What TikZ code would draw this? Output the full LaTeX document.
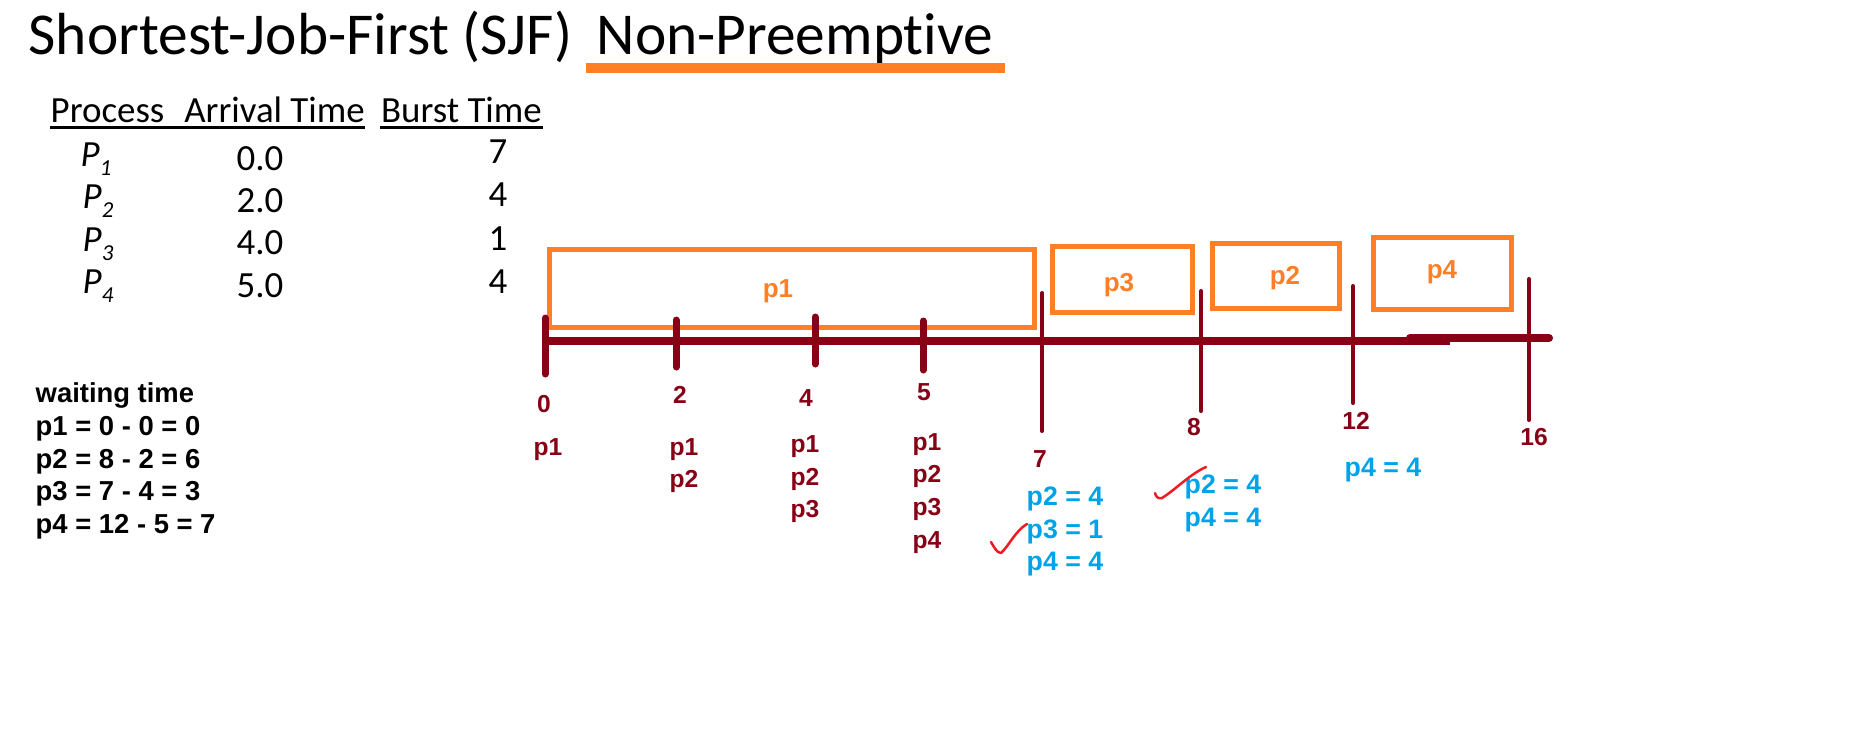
\documentclass[tikz,border=0pt]{standalone}
\usepackage{fontspec}
\setmainfont{Carlito}[Ligatures=NoCommon]
\newfontfamily\arial{Liberation Sans}
\usetikzlibrary{positioning}
\definecolor{tlred}{HTML}{880015}
\definecolor{boxorange}{HTML}{FF7F27}
\definecolor{qblue}{HTML}{00A2E8}
\definecolor{tickred}{HTML}{ED1C24}
\newcommand{\procname}[1]{\textit{P}\raisebox{-0.9mm}{\fontsize{6.5}{7}\selectfont\textit{#1}}}

\begin{document}
\begin{tikzpicture}[x=0.1mm, y=-0.1mm, every node/.style={inner sep=0pt},
    ttl/.style={font=\fontsize{16.9}{20}\selectfont},
    tbl/.style={font=\fontsize{10.5}{13}\selectfont, anchor=base},
    slot/.style={draw=boxorange, line width=0.5mm},
    slotname/.style={text=boxorange, anchor=base, font=\arial\bfseries\fontsize{7.4}{9}\selectfont},
    tnum/.style={text=tlred, anchor=base, font=\arial\bfseries\fontsize{7}{9}\selectfont},
    queue/.style={text=qblue, anchor=base west, font=\arial\bfseries\fontsize{7.6}{9}\selectfont},
    wait/.style={anchor=base west, font=\arial\bfseries\fontsize{7.8}{9}\selectfont},
    bigtick/.style={tlred, line width=0.7mm, line cap=round},
    thintick/.style={tlred, line width=0.4mm, line cap=round},
    okmark/.style={tickred, line width=0.25mm, line cap=round, line join=round}]
                    \useasboundingbox (0,0) rectangle (1852,743);
                    % title
                    \node[ttl, anchor=base west] (sjf) at (28,54) {Shortest-Job-First (SJF)};
                    \node[ttl, base right=2.3mm of sjf] (np) {Non-Preemptive};
                    \draw[boxorange, line width=1mm] ([xshift=-1mm, yshift=-1.4mm]np.base west) -- ([xshift=1.1mm, yshift=-1.4mm]np.base east);
                    % table
                    \node[tbl, anchor=base west] (hproc) at (50,122) {Process\hspace{0.54em}Arrival Time};
                    \node[tbl, base right=1.5mm of hproc] (hburst) {Burst Time};
                    \draw[line width=0.3mm] ([yshift=-0.5mm]hproc.base west) -- ([yshift=-0.5mm]hproc.base east);
                    \draw[line width=0.3mm] ([yshift=-0.5mm]hburst.base west) -- ([yshift=-0.5mm]hburst.base east);
                    \node[tbl, anchor=base west] (P1) at (80,166) {\procname{1}};
                    \node[tbl] (A1) at (260,170) {0.0};
                    \node[tbl] (B1) at (498,163) {7};
                    \node[tbl, anchor=base west] (P2) at (82,208) {\procname{2}};
                    \node[tbl] (A2) at (260,212) {2.0};
                    \node[tbl] (B2) at (498,206) {4};
                    \node[tbl, anchor=base west] (P3) at (82,251) {\procname{3}};
                    \node[tbl] (A3) at (260,254) {4.0};
                    \node[tbl] (B3) at (498,250) {1};
                    \node[tbl, anchor=base west] (P4) at (82,293) {\procname{4}};
                    \node[tbl] (A4) at (260,297) {5.0};
                    \node[tbl] (B4) at (498,293) {4};
                    % waiting time
                    \node[wait] (w0) at (35,402) {waiting time};
                    \node[wait] (w1) at (35,435) {p1 = 0 - 0 = 0};
                    \node[wait] (w2) at (35,468) {p2 = 8 - 2 = 6};
                    \node[wait] (w3) at (35,500) {p3 = 7 - 4 = 3};
                    \node[wait] (w4) at (35,533) {p4 = 12 - 5 = 7};
                    % gantt slots
                    \node[slot, minimum width=48.5mm, minimum height=7.8mm] (s1) at (791.5,288) {};
                    \node[slot, minimum width=14mm, minimum height=6.6mm] (s3) at (1122,279) {};
                    \node[slot, minimum width=12.7mm, minimum height=6.5mm] (s2) at (1275.5,275.5) {};
                    \node[slot, minimum width=13.8mm, minimum height=7.2mm] (s4) at (1442,273) {};
                    \node[slotname] (l1) at (778,297) {p1};
                    \node[slotname] (l3) at (1119,291) {p3};
                    \node[slotname] (l2) at (1285,284) {p2};
                    \node[slotname] (l4) at (1442,278) {p4};
                    % time line
                    \coordinate (t0) at (545,341);
                    \coordinate (tmid) at (1450,341);
                    \coordinate (tjoin) at (1410,338);
                    \coordinate (tend) at (1549,338);
                    \draw[tlred, line width=0.8mm] (t0) -- (tmid);
                    \draw[tlred, line width=0.8mm, line cap=round] (tjoin) -- (tend);
                    \draw[bigtick] (545,318) -- (545,374);
                    \draw[bigtick] (676,320) -- (676,367);
                    \draw[bigtick] (815,317) -- (815,364);
                    \draw[bigtick] (923,321) -- (923,370);
                    \draw[thintick] (1042,293) -- (1042,431);
                    \draw[thintick] (1201,291) -- (1201,411);
                    \draw[thintick] (1353,286) -- (1353,403);
                    \draw[thintick] (1529,279) -- (1529,420);
                    \node[tnum] (n0) at (544,412) {0};
                    \node[tnum] (n2) at (680,403) {2};
                    \node[tnum] (n4) at (806,406) {4};
                    \node[tnum] (n5) at (924,400) {5};
                    \node[tnum] (n7) at (1040,467) {7};
                    \node[tnum] (n8) at (1194,435) {8};
                    \node[tnum] (n12) at (1356,429) {12};
                    \node[tnum] (n16) at (1534,445) {16};
                    % arrived processes
                    \node[tnum] (a0) at (548,455) {p1};
                    \node[tnum] (a2a) at (684,455) {p1};
                    \node[tnum] (a2b) at (684,487) {p2};
                    \node[tnum] (a4a) at (805,452) {p1};
                    \node[tnum] (a4b) at (805,485) {p2};
                    \node[tnum] (a4c) at (805,517) {p3};
                    \node[tnum] (a5a) at (927,450) {p1};
                    \node[tnum] (a5b) at (927,482) {p2};
                    \node[tnum] (a5c) at (927,515) {p3};
                    \node[tnum] (a5d) at (927,548) {p4};
                    % ready queue
                    \node[queue] (r7a) at (1026,505) {p2 = 4};
                    \node[queue] (r7b) at (1026,538) {p3 = 1};
                    \node[queue] (r7c) at (1026,570) {p4 = 4};
                    \node[queue] (r8a) at (1184,493) {p2 = 4};
                    \node[queue] (r8b) at (1184,526) {p4 = 4};
                    \node[queue] (r12) at (1344,476) {p4 = 4};
                    \draw[okmark] (991,542) .. controls (994,547) and (997,553) .. (1001,553) .. controls (1008,547) and (1016,530) .. (1027,524);
                    \draw[okmark] (1155,493) .. controls (1156,497) and (1158,499) .. (1162,498) .. controls (1175,490) and (1190,474) .. (1206,467);
                \end{tikzpicture}
\end{document}
